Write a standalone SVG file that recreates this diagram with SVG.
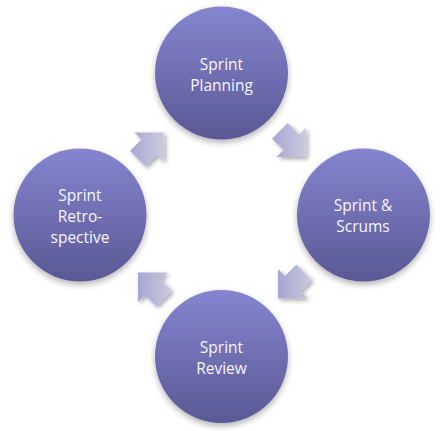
<svg xmlns="http://www.w3.org/2000/svg" width="443" height="431" viewBox="0 0 443 431">
  <defs>
    <linearGradient id="circGrad" x1="0" y1="0" x2="0" y2="1">
      <stop offset="0" stop-color="#8585d0"/>
      <stop offset="1" stop-color="#5a5894"/>
    </linearGradient>
    <linearGradient id="arrGrad" x1="0" y1="0" x2="1" y2="0">
      <stop offset="0" stop-color="#a6a6d4"/>
      <stop offset="1" stop-color="#cbcbdc"/>
    </linearGradient>
    <filter id="circShadow" x="-20%" y="-20%" width="140%" height="150%">
      <feDropShadow dx="0" dy="3" stdDeviation="3" flood-color="#000" flood-opacity="0.3"/>
    </filter>
    <filter id="arrShadow" x="-30%" y="-30%" width="160%" height="160%">
      <feDropShadow dx="2" dy="2" stdDeviation="2" flood-color="#000" flood-opacity="0.35"/>
    </filter>
  </defs>
  <style>
    .node circle { fill: url(#circGrad); filter: url(#circShadow); }
    .node text { font-family: "Open Sans", "DejaVu Sans", sans-serif; font-size: 15.5px; fill: #f6f6fb; text-anchor: middle; }
    .arrow { fill: url(#arrGrad); filter: url(#arrShadow); }
  </style>
  <rect width="443" height="431" fill="#ffffff"/>
  <g id="connectors">
    <path class="arrow" d="M287.7,123.1 L299,134.5 L306.1,127.4 L306.1,157.1 L276.4,157.1 L283.5,150 L272.1,138.7 Z"/>
    <path class="arrow" d="M311.9,280.2 L300.6,291.5 L307.6,298.6 L277.9,298.6 L277.9,268.9 L285,276 L296.3,264.6 Z"/>
    <path class="arrow" d="M156.3,306.4 L145,295.1 L137.9,302.1 L137.9,272.4 L167.6,272.4 L160.6,279.5 L171.9,290.8 Z"/>
    <path class="arrow" d="M130.1,150.8 L141.5,139.5 L134.4,132.4 L164.1,132.4 L164.1,162.1 L157,155.1 L145.7,166.4 Z"/>
  </g>
  <g id="node-planning" class="node">
    <circle cx="221.5" cy="73" r="66.5"/>
    <text x="221.5" y="70">Sprint</text>
    <text x="221.5" y="91">Planning</text>
  </g>
  <g id="node-scrums" class="node">
    <circle cx="363.5" cy="215" r="66.5"/>
    <text x="363" y="211">Sprint &amp;</text>
    <text x="363" y="232">Scrums</text>
  </g>
  <g id="node-review" class="node">
    <circle cx="221.5" cy="356.5" r="66.5"/>
    <text x="221.5" y="352.5">Sprint</text>
    <text x="221.5" y="373.5">Review</text>
  </g>
  <g id="node-retrospective" class="node">
    <circle cx="80" cy="215" r="66.5"/>
    <text x="80" y="200.5">Sprint</text>
    <text x="80" y="221.5">Retro-</text>
    <text x="80" y="242.5">spective</text>
  </g>
</svg>
